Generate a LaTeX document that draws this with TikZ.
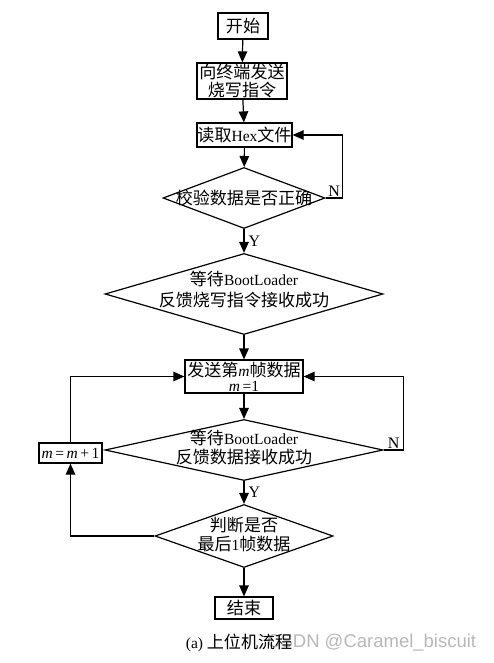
\documentclass[tikz,border=0pt]{standalone}
\usepackage{fontspec}
\setmainfont{Liberation Serif}
\newfontfamily\cjk[Scale=1.1]{Noto Sans CJK SC}
\newfontfamily\wmfont{Liberation Sans}
\usetikzlibrary{shapes.geometric,arrows.meta}
\newcommand{\zh}[1]{{\cjk #1}}
\begin{document}
\begin{tikzpicture}[x=1pt,y=-1pt,
  every node/.style={font=\fontsize{15.5}{17}\selectfont},
  box/.style={draw, line width=1.2pt, inner sep=0pt, align=center},
  dia/.style={draw, diamond, line width=1.2pt, inner sep=0pt},
  dtext/.style={align=center, font=\fontsize{15.5}{21}\selectfont},
  arr/.style={-{Triangle[length=11pt,width=9.5pt]}, line width=1.2pt},
  lab/.style={font=\fontsize{16}{18}\selectfont, inner sep=1pt}
]
\useasboundingbox[fill=white] (0,0) rectangle (493,663);

\node[box, minimum width=50pt, minimum height=26pt] (start) at (243,26) {\zh{开始}};
\node[box, minimum width=90pt, minimum height=36pt, font=\fontsize{15.5}{18}\selectfont] (send) at (242,81) {\zh{向终端发送}\\\zh{烧写指令}};
\node[box, minimum width=95pt, minimum height=24pt] (read) at (244.5,135) {\zh{读取}Hex\zh{文件}};
\node[dia, minimum width=162pt, minimum height=61pt] (d1) at (244,198) {};
\node[dtext] (t1) at (244,198) {\zh{校验数据是否正确}};
\node[dia, minimum width=278pt, minimum height=81pt] (d2) at (244,294) {};
\node[dtext] (t2) at (244,290) {\zh{等待}BootLoader\\\zh{反馈烧写指令接收成功}};
\node[box, minimum width=118pt, minimum height=33pt, font=\fontsize{15.5}{15}\selectfont] (frame) at (244,376.5) {\zh{发送第}\textit{m}\zh{帧数据}\\\textit{m}\,=1};
\node[dia, minimum width=278pt, minimum height=61pt] (d3) at (244,450) {};
\node[dtext, font=\fontsize{15.5}{19}\selectfont] (t3) at (244,448) {\zh{等待}BootLoader\\\zh{反馈数据接收成功}};
\node[box, minimum width=63pt, minimum height=20pt] (inc) at (70.5,453) {\textit{m}\,=\,\textit{m}\,+\,1};
\node[dia, minimum width=178pt, minimum height=63pt] (d4) at (244,536) {};
\node[dtext, font=\fontsize{15.5}{19}\selectfont] (t4) at (244,535) {\zh{判断是否}\\\zh{最后}1\zh{帧数据}};
\node[box, minimum width=58pt, minimum height=22pt] (end) at (244,608) {\zh{结束}};

\node[text=gray!55, font=\wmfont\fontsize{18.5}{20}\selectfont, anchor=west, inner sep=0pt] (wm) at (267,643) {CSDN @Caramel\_biscuit};
\node (cap) at (239,643) {(a) \zh{上位机流程}};

\draw[arr] (start) -- (send);
\draw[arr] (send) -- (read);
\draw[arr] (read) -- (d1);
\draw[arr] (d1.east) -- node[lab, above] {N} ++(17,0) |- (read.east);
\draw[arr] (d1.south) -- node[lab, right=3pt] {Y} (d2.north);
\draw[arr] (d2.south) -- (frame.north);
\draw[arr] (frame.south) -- (d3.north);
\draw[arr] (d3.east) -- node[lab, above] {N} ++(20,0) |- (frame.east);
\draw[arr] (d3.south) -- node[lab, right=3pt] {Y} (d4.north);
\draw[arr] (d4.south) -- (end.north);
\draw[arr] (d4.west) -| (inc.south);
\draw[arr] (inc.north) |- (frame.west);
\end{tikzpicture}
\end{document}
